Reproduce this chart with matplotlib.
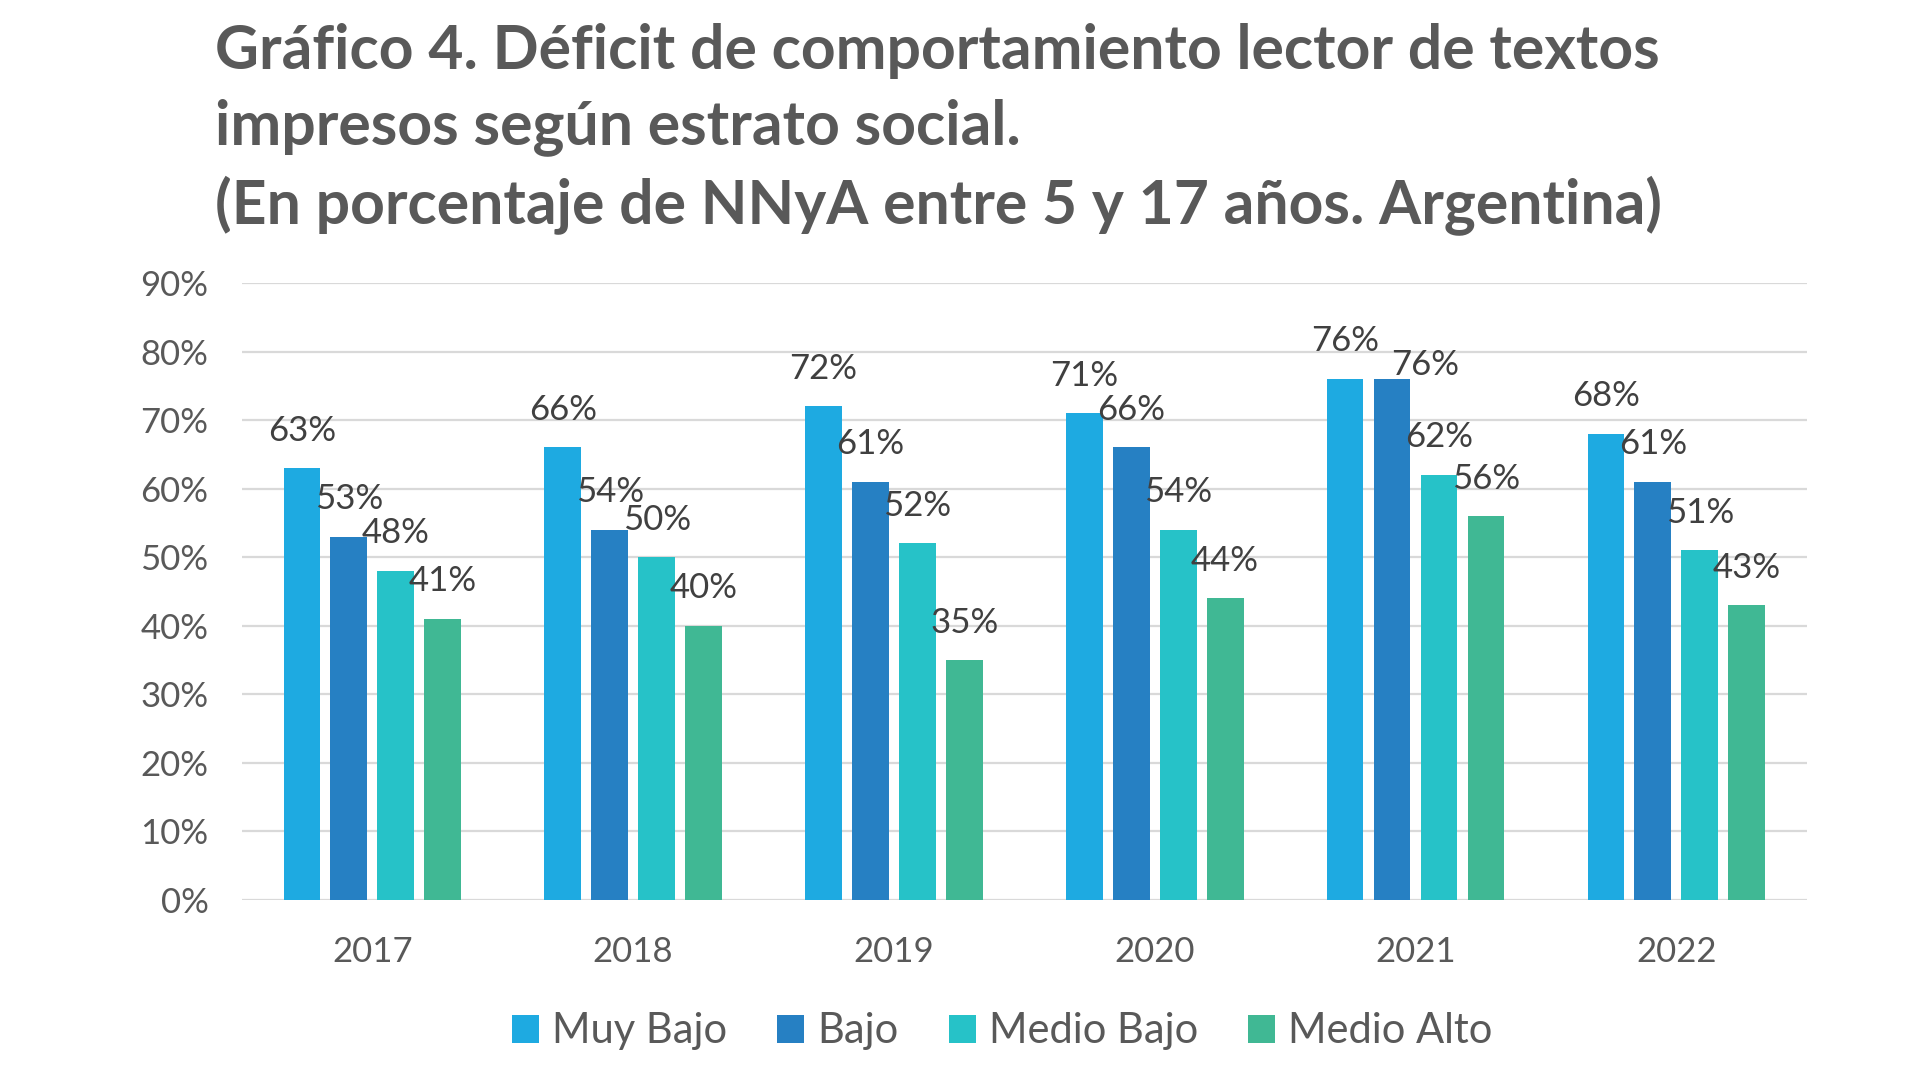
import numpy as np
import matplotlib
matplotlib.use("Agg")
import matplotlib.pyplot as plt
from matplotlib.patches import Patch

plt.rcParams['font.family'] = ['Lato', 'DejaVu Sans']

# data
years = ['2017', '2018', '2019', '2020', '2021', '2022']
series = ['Muy Bajo', 'Bajo', 'Medio Bajo', 'Medio Alto']
muy_bajo = [63, 66, 72, 71, 76, 68]
bajo = [53, 54, 61, 66, 76, 61]
medio_bajo = [48, 50, 52, 54, 62, 51]
medio_alto = [41, 40, 35, 44, 56, 43]
colors = ['#1EAAE1', '#2680C3', '#26C2C8', '#40B894']

values = [muy_bajo, bajo, medio_bajo, medio_alto]

fig = plt.figure(figsize=(19.2, 10.8), dpi=100)
ax = fig.add_axes([0.126, 0.1667, 0.815, 0.5713])

x = np.arange(len(years))
pitch = 0.18
width = 0.141
for i, (name, vals, col) in enumerate(zip(series, values, colors)):
    pos = x + (i - 1.5) * pitch
    ax.bar(pos, vals, width, color=col, label=name, zorder=3)
    for j, (p, v) in enumerate(zip(pos, vals)):
        dx, dy = 0, 27
        # the 2021 "Bajo" label was moved in the original
        if name == 'Bajo' and years[j] == '2021':
            dx, dy = 24, 10
        ax.annotate(f'{v}%', (p, v), xytext=(dx, dy), textcoords='offset points',
                    ha='center', va='center', fontsize=25, color='#404040',
                    annotation_clip=False, zorder=4)

ax.set_xlim(-0.5, 5.5)
ax.set_ylim(0, 90)
ax.set_yticks(range(0, 91, 10))
ax.set_yticklabels([f'{t}%' for t in range(0, 91, 10)])
ax.set_xticks(x)
ax.set_xticklabels(years)
ax.tick_params(axis='y', length=0, pad=24, labelsize=25, labelcolor='#595959')
ax.tick_params(axis='x', length=0, pad=26, labelsize=25, labelcolor='#595959')
ax.grid(axis='y', color='#D9D9D9', linewidth=1.6, zorder=0)
for s in ax.spines.values():
    s.set_visible(False)

title = ('Gráfico 4. Déficit de comportamiento lector de textos\n'
         'impresos según estrato social.\n'
         '(En porcentaje de NNyA entre 5 y 17 años. Argentina)')
fig.text(0.112, 0.979, title, ha='left', va='top', fontsize=43.7, fontweight='bold',
         color='#595959', linespacing=1.42)

handles = [Patch(facecolor=c, edgecolor='none') for c in colors]
fig.legend(handles, series, loc='center', bbox_to_anchor=(0.522, 0.045), ncol=4,
           frameon=False, fontsize=30, labelcolor='#595959',
           handlelength=0.65, handleheight=0.65, handletextpad=0.31, columnspacing=1.2)

fig.savefig('out.png', dpi=100)
